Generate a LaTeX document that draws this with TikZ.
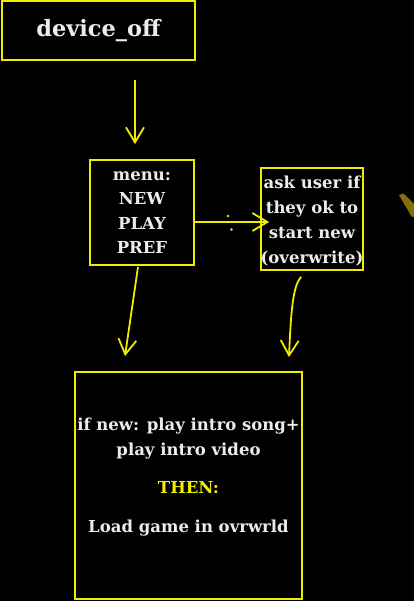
\documentclass[tikz,border=0pt]{standalone}
\usepackage{fontspec}
\setmainfont{DejaVu Serif}
\usetikzlibrary{arrows.meta}
\definecolor{penyellow}{RGB}{240,236,0}
\definecolor{chalk}{RGB}{236,236,236}
\definecolor{smudge}{RGB}{135,108,10}
\begin{document}
\begin{tikzpicture}[x=1pt,y=-1pt,
    box/.style={draw=penyellow,line width=1.8pt,inner sep=0pt,text=chalk,align=center},
    txt/.style={text=chalk,align=center,inner sep=0pt},
    arr/.style={draw=penyellow,line width=1.8pt,-{Straight Barb[length=15pt,width=18pt,line width=1.8pt]}}]
    \fill[black] (0,0) rectangle (414,601);
    \useasboundingbox (0,0) rectangle (414,601);

    \node[box,minimum width=193pt,minimum height=59pt,font=\bfseries\fontsize{22.5}{28}\selectfont] (device) at (98.5,30.5) {device\_off};
    \node[box,minimum width=104pt,minimum height=105pt,font=\bfseries\fontsize{16.5}{24.3}\selectfont] (menu) at (142,212.5) {menu:\\NEW\\PLAY\\PREF};
    \node[box,minimum width=102pt,minimum height=102pt] (ask) at (312,219) {};
    \node[txt,font=\bfseries\fontsize{16.5}{25}\selectfont] (asktext) at (312,221.5) {ask user if\\they ok to\\start new\\(overwrite)};
    \node[box,minimum width=227pt,minimum height=227pt] (game) at (188.5,485.5) {};
    \node[txt,font=\bfseries\fontsize{16.5}{25}\selectfont] (gametext) at (188.5,477.5) {if new: play intro song+\\play intro video\\[13pt]\textcolor{penyellow}{THEN:}\\[14pt]Load game in ovrwrld};

    \draw[arr] ([xshift=36.5pt,yshift=-19pt]device.south) -- ([xshift=-7pt,yshift=15pt]menu.north);
    \draw[arr] ([yshift=-9.5pt]menu.east) -- ([xshift=9pt,yshift=-3pt]ask.west);
    \draw[arr] ([xshift=-4pt,yshift=-1pt]menu.south) -- ([xshift=-63.5pt,yshift=15pt]game.north);
    \draw[arr] ([xshift=-11pt,yshift=-6pt]ask.south) .. controls (293,286) and (291,310) .. ([xshift=100.5pt,yshift=14pt]game.north);

    % dots beside the arrow
    \fill[penyellow] (228,216) circle (1.3pt) (231.5,229.5) circle (1.3pt);
    % smudge at the right edge
    \fill[smudge] (399,195) -- (403.5,193.5) -- (414,204) -- (414,217) -- (411.5,216.5) -- cycle;
\end{tikzpicture}
\end{document}
